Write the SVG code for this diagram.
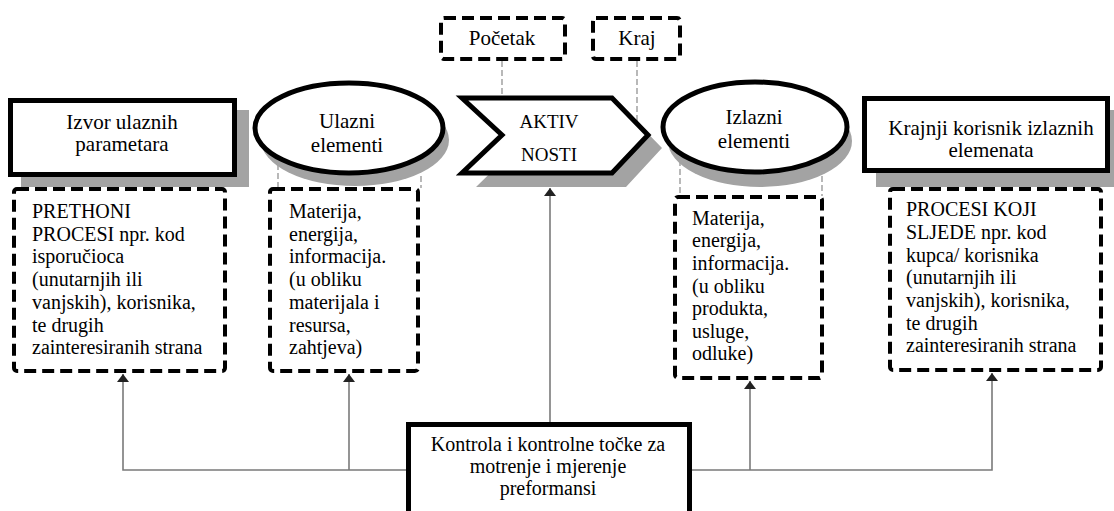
<svg xmlns="http://www.w3.org/2000/svg" width="1114" height="511" viewBox="0 0 1114 511" font-family="'Liberation Serif', 'DejaVu Serif', serif">
<style>
text{font-family:'Liberation Serif','DejaVu Serif',serif;font-size:20px;fill:#000}
.c{text-anchor:middle}
.h{font-size:21px}
.shadow{fill:#a3a3a3;stroke:none}
.solid{fill:#fff;stroke:#000;stroke-width:5}
.dash{fill:#fff;stroke:#000;stroke-width:4;stroke-dasharray:12 6}
.thin{stroke:#8a8a8a;stroke-width:1.2;stroke-dasharray:6 3;fill:none}
.conn{stroke:#7a7a7a;stroke-width:1.6;fill:none}
</style>
<defs>
<marker id="arr" viewBox="0 0 8 12" refX="8" refY="6" markerWidth="8" markerHeight="12" markerUnits="userSpaceOnUse" orient="auto">
<path d="M0,0 L8,6 L0,12 Z" fill="#222"/>
</marker>
</defs>
<rect width="1114" height="511" fill="#fff"/>

<g id="connectors">
<line class="thin" x1="502" y1="61" x2="502" y2="98"/>
<line class="thin" x1="637" y1="61" x2="637" y2="124"/>
<line class="thin" x1="278" y1="164" x2="278" y2="188"/>
<line class="thin" x1="421" y1="176" x2="421" y2="188"/>
<line class="thin" x1="680" y1="160" x2="680" y2="196"/>
<line class="thin" x1="822" y1="176" x2="822" y2="196"/>
<polyline class="conn" points="406,470 123,470 123,374" marker-end="url(#arr)"/>
<line class="conn" x1="349" y1="470" x2="349" y2="374" marker-end="url(#arr)"/>
<polyline class="conn" points="692,470 992,470 992,373" marker-end="url(#arr)"/>
<line class="conn" x1="750" y1="470" x2="750" y2="381" marker-end="url(#arr)"/>
<line class="conn" x1="550" y1="422" x2="550" y2="188" marker-end="url(#arr)"/>
</g>

<g id="pocetak">
<rect class="dash" x="441" y="18" width="124" height="41" rx="3"/>
<text class="c h" x="502" y="45">Početak</text>
</g>
<g id="kraj">
<rect class="dash" x="593" y="18" width="87" height="41" rx="3"/>
<text class="c h" x="637" y="45">Kraj</text>
</g>

<g id="izvor">
<rect class="shadow" x="21" y="110" width="228" height="77"/>
<rect class="solid" x="10.5" y="100.5" width="224" height="74"/>
<text class="c h" x="122" y="129">Izvor ulaznih</text>
<text class="c h" x="122" y="151">parametara</text>
</g>

<g id="ulazni">
<ellipse class="shadow" cx="355" cy="140" rx="94" ry="46"/>
<ellipse class="solid" cx="349" cy="128" rx="94" ry="45"/>
<text class="c h" x="347" y="128">Ulazni</text>
<text class="c h" x="347" y="152">elementi</text>
</g>

<g id="aktivnosti">
<polygon class="shadow" points="476,111 626,111 662,148 626,187 476,187 516,148"/>
<polygon class="solid" points="462,98 612,98 648,135 612,173 462,173 502,135"/>
<text class="c" x="549" y="128" style="font-size:19px">AKTIV</text>
<text class="c" x="549" y="161" style="font-size:19px">NOSTI</text>
</g>

<g id="izlazni">
<ellipse class="shadow" cx="760" cy="141" rx="92" ry="46"/>
<ellipse class="solid" cx="755" cy="127" rx="92" ry="45"/>
<text class="c h" x="754" y="124">Izlazni</text>
<text class="c h" x="754" y="148">elementi</text>
</g>

<g id="krajnji">
<rect class="shadow" x="876" y="110" width="240" height="77"/>
<rect class="solid" x="864.5" y="98.5" width="243" height="72"/>
<text class="c h" x="991" y="135">Krajnji korisnik izlaznih</text>
<text class="c h" x="991" y="157">elemenata</text>
</g>

<g id="prethodni">
<rect class="dash" x="14" y="189" width="211" height="182" rx="3"/>
<text x="32" y="218">PRETHONI</text>
<text x="32" y="241">PROCESI npr. kod</text>
<text x="32" y="263">isporučioca</text>
<text x="32" y="286">(unutarnjih ili</text>
<text x="32" y="309">vanjskih), korisnika,</text>
<text x="32" y="332">te drugih</text>
<text x="32" y="354">zainteresiranih strana</text>
</g>

<g id="ulazni-sadrzaj">
<rect class="dash" x="270" y="189" width="148" height="182" rx="3"/>
<text x="289" y="218">Materija,</text>
<text x="289" y="241">energija,</text>
<text x="289" y="263">informacija.</text>
<text x="289" y="286">(u obliku</text>
<text x="289" y="309">materijala i</text>
<text x="289" y="332">resursa,</text>
<text x="289" y="354">zahtjeva)</text>
</g>

<g id="izlazni-sadrzaj">
<rect class="dash" x="675" y="197" width="147" height="181" rx="3"/>
<text x="692" y="225">Materija,</text>
<text x="692" y="247">energija,</text>
<text x="692" y="270">informacija.</text>
<text x="692" y="293">(u obliku</text>
<text x="692" y="315">produkta,</text>
<text x="692" y="338">usluge,</text>
<text x="692" y="360">odluke)</text>
</g>

<g id="sljedeci">
<rect class="dash" x="890" y="189" width="211" height="181" rx="3"/>
<text x="906" y="216">PROCESI KOJI</text>
<text x="906" y="239">SLJEDE npr. kod</text>
<text x="906" y="262">kupca/ korisnika</text>
<text x="906" y="284">(unutarnjih ili</text>
<text x="906" y="307">vanjskih), korisnika,</text>
<text x="906" y="330">te drugih</text>
<text x="906" y="352">zainteresiranih strana</text>
</g>

<g id="kontrola">
<rect class="solid" x="408.5" y="424.5" width="281" height="100"/>
<text class="c" x="548" y="450.5">Kontrola i kontrolne točke za</text>
<text class="c" x="548" y="472.7">motrenje i mjerenje</text>
<text class="c" x="548" y="494.9">preformansi</text>
</g>
</svg>
